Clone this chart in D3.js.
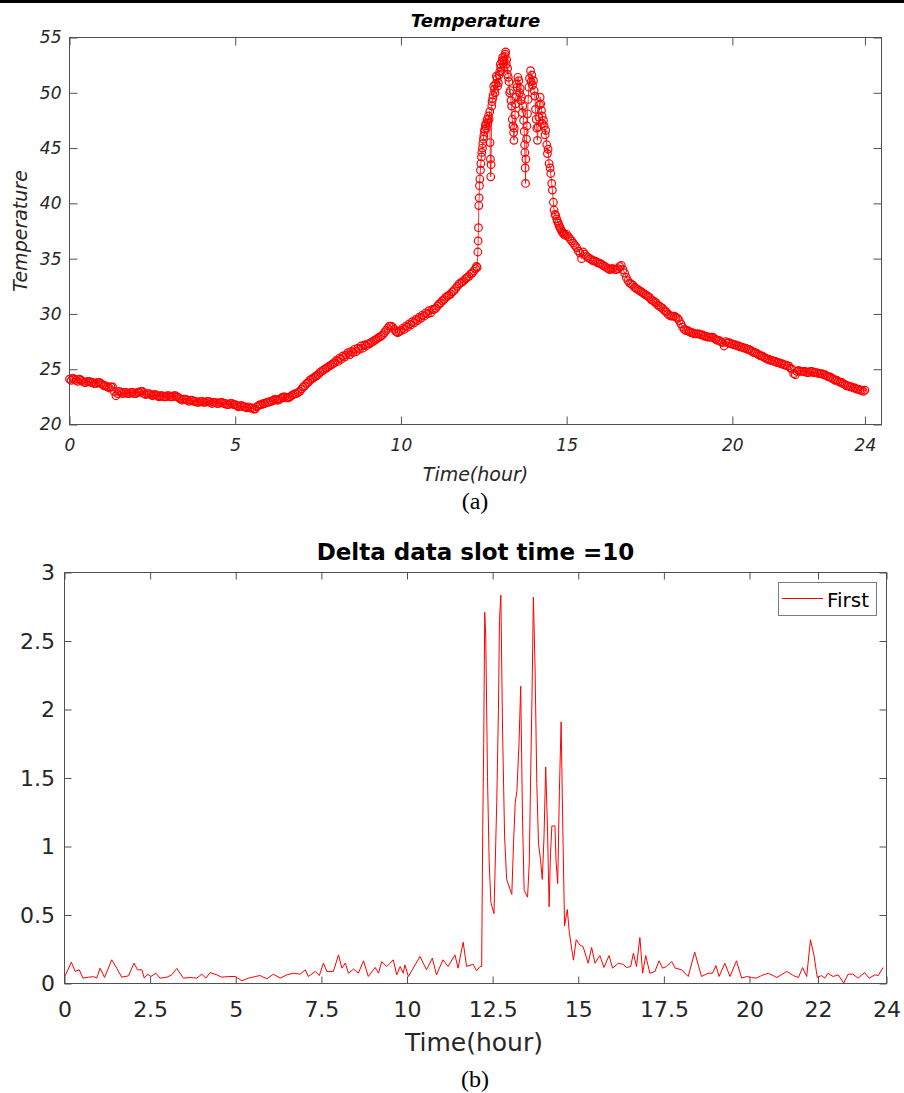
<!DOCTYPE html>
<html><head><meta charset="utf-8">
<script src="https://cdn.jsdelivr.net/npm/d3@7"></script>
<style>body{margin:0;background:#fff} svg{display:block}</style>
</head><body>
<script>
// ---------- Data: (a) Temperature ----------
const tempTicksX = [0, 5, 10, 15, 20, 24];
const tempTicksY = [20, 25, 30, 35, 40, 45, 50, 55];
// 0.00 h … 12.10 h, one reading every 0.05 h (20 per hour)
const tempEarly = [
 24.1,24.0,24.2,24.1,24.0,23.9,24.1,24.0,23.9,23.8,23.8,23.9,23.9,23.8,23.8,23.7,23.7,23.8,23.8,23.7,
 23.6,23.5,23.5,23.4,23.3,23.4,23.4,23.0,22.6,22.8,23.0,22.9,22.8,22.9,22.9,22.8,22.8,22.9,22.9,22.8,
 22.8,22.9,22.9,23.0,23.0,22.8,22.7,22.8,22.8,22.7,22.6,22.7,22.7,22.6,22.5,22.6,22.6,22.5,22.5,22.6,
 22.6,22.5,22.5,22.6,22.6,22.5,22.4,22.3,22.2,22.3,22.3,22.2,22.1,22.2,22.2,22.1,22.1,22.0,22.0,22.1,
 22.1,22.0,22.0,22.1,22.1,22.0,21.9,22.0,22.0,21.9,21.9,22.0,22.0,21.9,21.9,21.8,21.8,21.9,21.9,21.8,
 21.8,21.7,21.6,21.7,21.7,21.6,21.6,21.5,21.6,21.5,21.5,21.4,21.4,21.6,21.7,21.8,21.8,21.9,21.9,22.0,
 22.0,22.1,22.1,22.2,22.3,22.2,22.2,22.3,22.4,22.5,22.5,22.4,22.4,22.5,22.6,22.7,22.8,22.8,22.9,23.0,
 23.2,23.4,23.5,23.7,23.8,24.0,24.1,24.2,24.3,24.4,24.5,24.7,24.8,24.9,25.0,25.1,25.2,25.3,25.4,25.5,
 25.6,25.8,25.7,26.0,25.9,26.2,26.1,26.3,26.5,26.3,26.6,26.5,26.8,26.6,26.9,26.8,27.1,26.9,27.2,27.1,
 27.3,27.3,27.4,27.5,27.6,27.7,27.8,27.9,28.0,28.1,28.3,28.5,28.7,28.9,28.9,28.8,28.6,28.4,28.3,28.4,
 28.5,28.7,28.6,28.9,28.8,29.1,29.0,29.3,29.2,29.5,29.4,29.7,29.6,29.9,29.8,30.1,30.0,30.3,30.1,30.4,
 30.4,30.5,30.7,30.9,31.0,31.2,31.3,31.5,31.6,31.7,31.8,32.0,32.1,32.3,32.5,32.7,32.8,32.9,33.0,33.2,
 33.3,33.4,33.6
];
// the hot spell, [hour, temperature] readings
const tempPeak = [
 [12.15,33.7],[12.2,33.9],[12.25,34.1],[12.28,34.3],[12.30,34.2],[12.32,35.6],[12.33,36.6],[12.34,37.8],
 [12.35,39.8],[12.36,40.5],[12.37,41.6],[12.38,42.2],[12.40,43.0],[12.41,43.6],[12.43,44.2],[12.44,44.6],
 [12.46,45.0],[12.47,45.4],[12.49,45.8],[12.5,46.1],[12.52,46.5],[12.53,46.7],[12.55,47.0],[12.56,47.2],
 [12.58,46.8],[12.6,47.6],[12.62,47.3],[12.64,47.9],[12.66,47.6],[12.68,48.3],[12.69,45.5],[12.70,44.0],
 [12.71,42.4],[12.72,43.5],[12.74,48.8],[12.75,49.2],[12.77,49.5],[12.78,49.8],[12.80,50.6],[12.82,50.3],
 [12.84,50.0],[12.86,50.8],[12.88,51.5],[12.9,51.3],[12.92,50.6],[12.94,50.9],[12.96,51.6],[12.98,51.9],
 [13.0,52.6],[13.01,52.3],[13.03,52.0],[13.05,52.9],[13.07,53.2],[13.09,52.6],[13.11,52.9],[13.13,53.3],
 [13.15,53.5],[13.16,53.7],[13.18,52.6],[13.19,53.0],[13.21,51.7],[13.22,52.2],[13.24,51.4],[13.26,51.0],
 [13.28,50.0],[13.3,50.2],[13.32,49.3],[13.34,48.8],[13.36,47.6],[13.38,47.0],[13.40,46.4],[13.41,45.7],
 [13.42,46.8],[13.44,48.0],[13.46,49.0],[13.47,49.6],[13.49,50.8],[13.51,50.5],[13.53,51.4],[13.56,51.1],
 [13.58,50.0],[13.6,50.4],[13.62,49.3],[13.64,49.6],[13.66,48.2],[13.68,48.8],[13.70,47.5],[13.72,46.5],
 [13.73,45.3],[13.74,44.6],[13.75,43.2],[13.76,41.8],[13.77,44.0],[13.79,45.8],[13.80,47.0],[13.82,48.1],
 [13.84,49.4],[13.86,50.5],[13.88,51.3],[13.91,52.0],[13.93,51.0],[13.95,51.6],[13.97,50.7],[14.0,51.1],
 [14.02,50.2],[14.04,49.7],[14.06,48.5],[14.08,47.6],[14.10,46.8],[14.12,45.7],[14.14,46.9],[14.16,47.8],
 [14.18,48.9],[14.2,49.6],[14.22,49.0],[14.24,48.4],[14.26,47.9],[14.27,47.2],[14.30,47.5],[14.32,47.0],
 [14.35,46.2],[14.37,46.6],[14.40,45.3],[14.42,44.5],[14.44,44.9],[14.47,43.6],[14.50,43.2],[14.52,42.7],
 [14.55,41.8],[14.57,41.2],[14.60,40.1],[14.62,39.4],[14.65,39.0],[14.67,38.9],[14.70,38.6],[14.72,38.4],
 [14.75,38.2],[14.77,38.0],[14.80,37.8],[14.82,37.7],[14.85,37.5],[14.87,37.4],[14.90,37.3],[14.92,37.2],
 [14.96,37.1]
];
// 15.00 h … 24.00 h, one reading every 0.05 h (20 per hour)
const tempLate = [
 37.2,37.0,36.8,36.6,36.4,36.2,36.0,35.7,35.5,35.0,35.6,35.4,35.2,35.1,35.0,34.9,34.8,34.8,34.7,34.6,
 34.6,34.5,34.4,34.3,34.2,34.1,34.0,34.1,34.1,34.0,34.0,34.1,34.3,34.4,34.0,33.7,33.3,33.0,32.8,32.7,
 32.6,32.4,32.3,32.2,32.1,32.0,31.9,31.8,31.7,31.6,31.5,31.3,31.2,31.1,31.0,30.8,30.7,30.6,30.5,30.3,
 30.2,30.0,29.9,29.8,29.8,29.8,29.7,29.6,29.4,29.1,28.8,28.6,28.5,28.5,28.4,28.3,28.3,28.2,28.2,28.2,
 28.2,28.1,28.1,28.0,28.0,27.9,27.9,27.9,27.9,27.8,27.7,27.6,27.6,27.5,27.4,27.1,27.5,27.4,27.4,27.3,
 27.3,27.2,27.2,27.1,27.1,27.0,27.0,26.9,26.9,26.8,26.8,26.7,26.6,26.5,26.5,26.4,26.3,26.2,26.2,26.1,
 26.0,25.9,25.9,25.8,25.8,25.7,25.7,25.6,25.6,25.5,25.5,25.4,25.4,25.3,25.3,25.1,25.0,24.6,24.5,24.8,
 24.9,24.8,24.8,24.8,24.8,24.7,24.7,24.8,24.8,24.7,24.7,24.7,24.6,24.6,24.6,24.5,24.5,24.4,24.3,24.3,
 24.2,24.1,24.0,24.0,23.9,23.8,23.8,23.7,23.6,23.5,23.5,23.4,23.4,23.3,23.3,23.2,23.2,23.1,23.1,23.0,
 23.1
];

// ---------- Data: (b) Delta data slot time = 10 ----------
const deltaTicksX = [0, 2.5, 5, 7.5, 10, 12.5, 15, 17.5, 20, 22, 24];
const deltaTicksY = [0, 0.5, 1, 1.5, 2, 2.5, 3];
const deltaHours = [
 0.00,0.20,0.31,0.43,0.54,0.70,0.85,0.94,1.04,1.17,1.38,1.53,1.67,1.87,2.03,2.13,2.26,2.33,2.42,2.52,
 2.67,2.79,2.99,3.13,3.28,3.47,3.67,3.86,4.01,4.13,4.25,4.45,4.59,4.79,4.98,5.18,5.37,5.57,5.71,5.91,
 6.10,6.30,6.49,6.69,6.88,7.03,7.12,7.32,7.44,7.56,7.66,7.85,8.00,8.10,8.20,8.29,8.44,8.58,8.73,8.87,
 9.07,9.17,9.26,9.41,9.60,9.70,9.80,9.89,9.94,10.04,10.38,10.57,10.74,10.86,11.05,11.20,11.40,11.49,11.64,11.74,
 11.93,12.03,12.13,12.18,12.21,12.24,12.27,12.30,12.35,12.40,12.45,12.54,12.62,12.67,12.70,12.74,12.79,12.85,12.91,13.06,
 13.11,13.16,13.21,13.27,13.32,13.37,13.42,13.52,13.57,13.62,13.65,13.69,13.74,13.79,13.84,13.90,13.95,14.00,14.05,14.10,
 14.15,14.19,14.23,14.32,14.35,14.40,14.45,14.50,14.55,14.60,14.68,14.74,14.86,14.94,15.05,15.14,15.29,15.39,15.49,15.63,
 15.75,15.90,16.00,16.17,16.31,16.41,16.53,16.61,16.70,16.80,16.88,16.97,17.09,17.24,17.36,17.46,17.58,17.73,17.83,18.02,
 18.21,18.40,18.60,18.79,18.92,19.02,19.11,19.28,19.43,19.62,19.77,19.91,20.06,20.20,20.35,20.55,20.80,21.09,21.28,21.43,
 21.55,21.67,21.78,21.88,21.98,22.10,22.20,22.29,22.44,22.59,22.75,22.88,23.02,23.17,23.36,23.49,23.66,23.76,23.90
];
const deltaValues = [
 0.046,0.156,0.088,0.10,0.039,0.046,0.05,0.039,0.112,0.044,0.173,0.11,0.046,0.056,0.149,0.10,0.10,0.039,0.068,0.051,
 0.075,0.039,0.046,0.063,0.11,0.039,0.044,0.039,0.068,0.039,0.08,0.063,0.046,0.051,0.051,0.02,0.039,0.051,0.058,0.034,
 0.068,0.039,0.063,0.075,0.068,0.10,0.051,0.088,0.058,0.149,0.088,0.088,0.209,0.112,0.149,0.075,0.105,0.075,0.166,0.051,
 0.117,0.075,0.16,0.124,0.173,0.063,0.124,0.075,0.136,0.051,0.197,0.10,0.185,0.063,0.173,0.124,0.209,0.112,0.302,0.124,
 0.141,0.093,0.124,0.124,1.10,1.75,2.71,2.53,1.51,0.88,0.59,0.51,1.32,2.00,2.65,2.835,1.85,1.07,0.76,0.65,
 1.02,1.32,1.41,1.75,2.17,1.24,0.68,0.63,0.88,1.66,2.09,2.82,2.29,1.46,1.02,0.90,0.76,1.07,1.58,1.15,
 0.56,0.95,1.15,1.15,0.90,0.73,1.41,1.91,1.12,0.42,0.54,0.37,0.17,0.32,0.28,0.27,0.148,0.263,0.148,0.204,
 0.117,0.204,0.112,0.148,0.14,0.117,0.124,0.221,0.124,0.336,0.075,0.204,0.075,0.088,0.166,0.112,0.124,0.16,0.112,0.10,
 0.051,0.229,0.051,0.075,0.075,0.131,0.051,0.148,0.051,0.166,0.039,0.051,0.044,0.039,0.058,0.075,0.044,0.088,0.058,0.044,
 0.117,0.051,0.319,0.209,0.044,0.058,0.039,0.075,0.051,0.063,0.003,0.068,0.068,0.039,0.08,0.039,0.063,0.058,0.117
];
const legendLabel = "First";

// ---------- Drawing ----------
const W = 904, H = 1093;
const axisColor = "#505050", textColor = "#262626", red = "#ff0000";
const svg = d3.select("body").append("svg").attr("width", W).attr("height", H);
svg.append("rect").attr("width", W).attr("height", H).attr("fill", "#fff");
svg.append("rect").attr("x", 0).attr("y", 0).attr("width", W).attr("height", 3).attr("fill", "#000");

function frameAndAxes(x, y, xt, yt, o) {
  const [xa, xb] = x.range(), [ya, yb] = y.range();
  const g = svg.append("g");
  const styleAxis = sel => {
    sel.select(".domain").remove();
    sel.selectAll(".tick line").attr("stroke", axisColor);
    sel.selectAll(".tick text").attr("fill", textColor)
      .style("font-family", "'DejaVu Sans', sans-serif")
      .style("font-size", o.fs + "px").style("font-style", o.italic ? "italic" : "normal");
  };
  g.append("g").attr("transform", `translate(0,${ya})`)
    .call(d3.axisBottom(x).tickValues(xt).tickSizeInner(-o.tick).tickSizeOuter(0).tickPadding(o.padX).tickFormat(d3.format("")))
    .call(styleAxis);
  g.append("g").attr("transform", `translate(0,${yb})`)
    .call(d3.axisTop(x).tickValues(xt).tickSizeInner(-o.tick).tickSizeOuter(0).tickFormat(""))
    .call(styleAxis);
  g.append("g").attr("transform", `translate(${xa},0)`)
    .call(d3.axisLeft(y).tickValues(yt).tickSizeInner(-o.tick).tickSizeOuter(0).tickPadding(o.padY).tickFormat(d3.format("")))
    .call(styleAxis);
  g.append("g").attr("transform", `translate(${xb},0)`)
    .call(d3.axisRight(y).tickValues(yt).tickSizeInner(-o.tick).tickSizeOuter(0).tickFormat(""))
    .call(styleAxis);
  g.append("rect").attr("x", xa).attr("y", yb).attr("width", xb - xa).attr("height", ya - yb)
    .attr("fill", "none").attr("stroke", axisColor).attr("stroke-width", 1);
}

// ----- (a) -----
const xA = d3.scaleLinear().domain([0, 24.5]).range([69.5, 881.5]);
const yA = d3.scaleLinear().domain([20, 55]).range([424.5, 37.5]);
const tempData = []
  .concat(tempEarly.map((v, i) => ({ h: i / 20, v })))
  .concat(tempPeak.map(([h, v]) => ({ h, v })))
  .concat(tempLate.map((v, i) => ({ h: 15 + i / 20, v })));

const gA = svg.append("g");
gA.append("path").datum(tempData)
  .attr("d", d3.line().x(d => xA(d.h)).y(d => yA(d.v)))
  .attr("fill", "none").attr("stroke", red).attr("stroke-width", 0.8);
gA.selectAll("circle").data(tempData).join("circle")
  .attr("cx", d => xA(d.h)).attr("cy", d => yA(d.v)).attr("r", 3.8)
  .attr("fill", "none").attr("stroke", red).attr("stroke-width", 1.2);

frameAndAxes(xA, yA, tempTicksX, tempTicksY, { fs: 17, italic: true, tick: 8, padX: 14.5, padY: 8 });

svg.append("text").attr("x", 475.5).attr("y", 26.5).attr("text-anchor", "middle")
  .style("font-family", "'DejaVu Sans', sans-serif").style("font-size", "18px")
  .style("font-weight", "bold").style("font-style", "italic").attr("fill", "#000")
  .text("Temperature");
svg.append("text").attr("x", 475.5).attr("y", 480.5).attr("text-anchor", "middle")
  .style("font-family", "'DejaVu Sans', sans-serif").style("font-size", "19px")
  .style("font-style", "italic").attr("fill", textColor).text("Time(hour)");
svg.append("text").attr("transform", "translate(27,231) rotate(-90)").attr("text-anchor", "middle")
  .style("font-family", "'DejaVu Sans', sans-serif").style("font-size", "19px")
  .style("font-style", "italic").attr("fill", textColor).text("Temperature");
svg.append("text").attr("x", 475).attr("y", 509).attr("text-anchor", "middle")
  .style("font-family", "'Liberation Serif', 'Times New Roman', serif").style("font-size", "24px")
  .attr("fill", "#000").text("(a)");

// ----- (b) -----
const xB = d3.scaleLinear().domain([0, 24]).range([64.5, 886.5]);
const yB = d3.scaleLinear().domain([0, 3]).range([983.5, 572.5]);
const deltaData = deltaValues.map((v, i) => ({ h: deltaHours[i], v }));

svg.append("path").datum(deltaData)
  .attr("d", d3.line().x(d => xB(d.h)).y(d => yB(d.v)))
  .attr("fill", "none").attr("stroke", red).attr("stroke-width", 1);

frameAndAxes(xB, yB, deltaTicksX, deltaTicksY, { fs: 22, italic: false, tick: 7, padX: 17.5, padY: 9.5 });

svg.append("text").attr("x", 475.5).attr("y", 559.5).attr("text-anchor", "middle")
  .style("font-family", "'DejaVu Sans', sans-serif").style("font-size", "23px")
  .style("font-weight", "bold").attr("fill", "#000").text("Delta data slot time =10");
svg.append("text").attr("x", 474).attr("y", 1051).attr("text-anchor", "middle")
  .style("font-family", "'DejaVu Sans', sans-serif").style("font-size", "25px")
  .attr("fill", textColor).text("Time(hour)");
svg.append("text").attr("x", 475).attr("y", 1087).attr("text-anchor", "middle")
  .style("font-family", "'Liberation Serif', 'Times New Roman', serif").style("font-size", "24px")
  .attr("fill", "#000").text("(b)");

// legend
const lg = svg.append("g");
lg.append("rect").attr("x", 778.5).attr("y", 582.5).attr("width", 98).attr("height", 33)
  .attr("fill", "#fff").attr("stroke", "#7a7a7a");
lg.append("line").attr("x1", 782).attr("x2", 823).attr("y1", 598.5).attr("y2", 598.5)
  .attr("stroke", red).attr("stroke-width", 1);
lg.append("text").attr("x", 827).attr("y", 606.5)
  .style("font-family", "'DejaVu Sans', sans-serif").style("font-size", "20px")
  .attr("fill", "#000").text(legendLabel);
</script>
</body></html>
